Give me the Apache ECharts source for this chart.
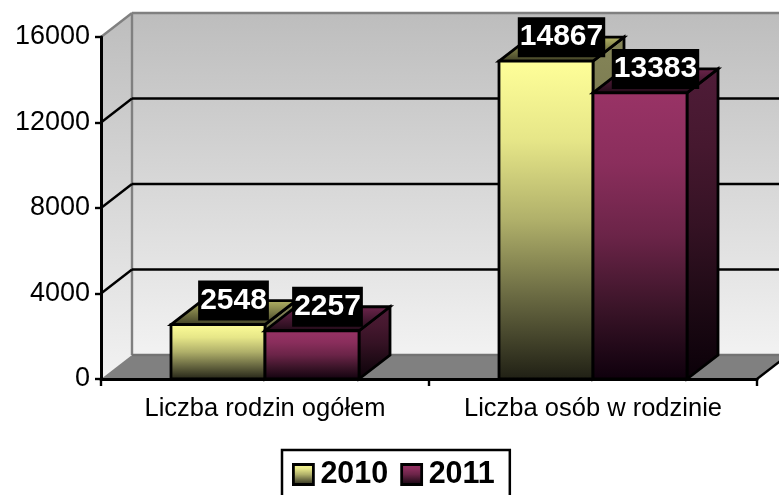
<!DOCTYPE html>
<html>
<head>
<meta charset="utf-8">
<title>Liczba rodzin</title>
<script src="https://cdn.jsdelivr.net/npm/echarts@6/dist/echarts.min.js"></script>
<style>
  html, body { margin: 0; padding: 0; background: #fff; }
  #chart { width: 779px; height: 495px; }
</style>
</head>
<body>
<div id="chart"></div>
<script>
const categories = ["Liczba rodzin ogółem", "Liczba osób w rodzinie"];
const values2010 = [2548, 14867];
const values2011 = [2257, 13383];
const yTicks = [0, 4000, 8000, 12000, 16000];

const FONT = '"Liberation Sans", Arial, sans-serif';
// fake 3d depth of the chart box
const DEPTH_X = 31;
const DEPTH_Y = -24;
const BAR_RATIO = 94 / 328;

const vGrad = (stops) => ({
  type: "linear", x: 0, y: 0, x2: 0, y2: 1,
  colorStops: stops.map((c, i) => ({ offset: i / (stops.length - 1), color: c }))
});

const yellow = {
  front: vGrad(["#ffff99", "#e6e688", "#b0b06a", "#666640", "#1f1f14"]),
  side: vGrad(["#858558", "#7a7a50", "#5a5a38", "#333320", "#0f0f0a"]),
  top: vGrad(["#b8b868", "#3a3a22"])
};
const purple = {
  front: vGrad(["#993366", "#8a2e5c", "#6b2448", "#3a1428", "#0e000c"]),
  side: vGrad(["#4f1c38", "#46182f", "#351224", "#1e0a15", "#0a0008"]),
  top: vGrad(["#70264e", "#1e0a16"])
};

const poly = (points, fill, stroke, lineWidth) => ({
  type: "polygon",
  shape: { points },
  style: { fill, stroke, lineWidth, lineJoin: "miter" }
});
const line = (x1, y1, x2, y2, stroke) => ({
  type: "line",
  shape: { x1, y1, x2, y2 },
  style: { stroke, lineWidth: 2.4 }
});

function renderWalls(params, api) {
  const g = params.coordSys;
  const left = g.x, right = g.x + g.width, top = g.y, bottom = g.y + g.height;
  const wall = vGrad(["#bdbdbd", "#f2f2f2"]);
  const children = [
    poly([[left, top], [left + DEPTH_X, top + DEPTH_Y], [left + DEPTH_X, bottom + DEPTH_Y], [left, bottom]], wall),
    poly([[left + DEPTH_X, top + DEPTH_Y], [right + DEPTH_X, top + DEPTH_Y], [right + DEPTH_X, bottom + DEPTH_Y], [left + DEPTH_X, bottom + DEPTH_Y]], wall),
    poly([[left, bottom], [left + DEPTH_X, bottom + DEPTH_Y], [right + DEPTH_X, bottom + DEPTH_Y], [right, bottom]], "#808080"),
    line(left + DEPTH_X, top + DEPTH_Y, left + DEPTH_X, bottom + DEPTH_Y, "#808080"),
    line(left + DEPTH_X, bottom + DEPTH_Y, right + DEPTH_X, bottom + DEPTH_Y, "#737373"),
    line(right, bottom, right + DEPTH_X, bottom + DEPTH_Y, "#000")
  ];
  yTicks.forEach((t) => {
    const y = api.coord([0, t])[1];
    if (t === 0) return;
    const c = t === yTicks[yTicks.length - 1] ? "#808080" : "#000";
    children.push(line(left, y, left + DEPTH_X, y + DEPTH_Y, c));
    children.push(line(left + DEPTH_X, y + DEPTH_Y, right + DEPTH_X, y + DEPTH_Y, c));
  });
  return { type: "group", children };
}

function barRenderer(colors, slot) {
  return function (params, api) {
    const base = api.coord([api.value(0), 0]);
    const peak = api.coord([api.value(0), api.value(1)]);
    const w = api.size([1, 0])[0] * BAR_RATIO;
    const x0 = base[0] + (slot - 1) * w;
    const x1 = x0 + w;
    const y0 = peak[1], y1 = base[1];
    const dx = DEPTH_X, dy = DEPTH_Y;
    return {
      type: "group",
      children: [
        poly([[x1, y0], [x1 + dx, y0 + dy], [x1 + dx, y1 + dy], [x1, y1]], colors.side, "#000", 2.8),
        poly([[x0, y0], [x0 + dx, y0 + dy], [x1 + dx, y0 + dy], [x1, y0]], colors.top, "#000", 2.8),
        poly([[x0, y0], [x1, y0], [x1, y1], [x0, y1]], colors.front, "#000", 2.8),
        {
          type: "text",
          x: (x0 + x1) / 2 + dx / 2,
          y: y0 + dy,
          style: {
            text: String(api.value(1)),
            align: "center",
            verticalAlign: "middle",
            font: "bold 30px " + FONT,
            fill: "#fff",
            backgroundColor: "#000",
            padding: [5, 2, 5, 2]
          }
        }
      ]
    };
  };
}

const chart = echarts.init(document.getElementById("chart"), null, { renderer: "canvas" });
chart.setOption({
  animation: false,
  backgroundColor: "#fff",
  grid: { left: 101, right: 22, top: 37, bottom: 116, containLabel: false },
  legend: {
    left: 282,
    top: 450,
    orient: "horizontal",
    padding: [9, 15, 14, 10],
    itemGap: 12,
    itemWidth: 20,
    itemHeight: 20,
    borderColor: "#000",
    borderWidth: 2.5,
    textStyle: { color: "#000", fontFamily: FONT, fontWeight: "bold", fontSize: 30.5, padding: [0, 0, 0, 2] },
    data: [
      { name: "2010", icon: "rect", itemStyle: { color: yellow.front, borderColor: "#000", borderWidth: 2.8 } },
      { name: "2011", icon: "rect", itemStyle: { color: purple.front, borderColor: "#000", borderWidth: 2.8 } }
    ]
  },
  xAxis: {
    type: "category",
    data: categories,
    z: 5,
    axisLine: { lineStyle: { color: "#000", width: 3 } },
    axisTick: { show: true, interval: 0, length: 7, lineStyle: { color: "#000", width: 2.4 } },
    axisLabel: { interval: 0, color: "#000", fontFamily: FONT, fontSize: 25.5, margin: 17 }
  },
  yAxis: {
    type: "value",
    min: 0,
    max: 16000,
    interval: 4000,
    z: 5,
    axisLine: { show: true, lineStyle: { color: "#000", width: 3 } },
    axisTick: { show: true, length: 6, lineStyle: { color: "#000", width: 2.4 } },
    axisLabel: { color: "#000", fontFamily: FONT, fontSize: 27, margin: 11, formatter: (v) => String(v) },
    splitLine: { show: false }
  },
  series: [
    { type: "custom", name: "walls", z: 1, silent: true, clip: false, renderItem: renderWalls, data: [[0, 0]] },
    {
      type: "custom", name: "2010", z: 3, clip: false, renderItem: barRenderer(yellow, 0),
      itemStyle: { color: "#ffff99" },
      encode: { x: 0, y: 1 },
      data: categories.map((c, i) => [i, values2010[i]])
    },
    {
      type: "custom", name: "2011", z: 4, clip: false, renderItem: barRenderer(purple, 1),
      itemStyle: { color: "#993366" },
      encode: { x: 0, y: 1 },
      data: categories.map((c, i) => [i, values2011[i]])
    }
  ]
});
</script>
</body>
</html>
